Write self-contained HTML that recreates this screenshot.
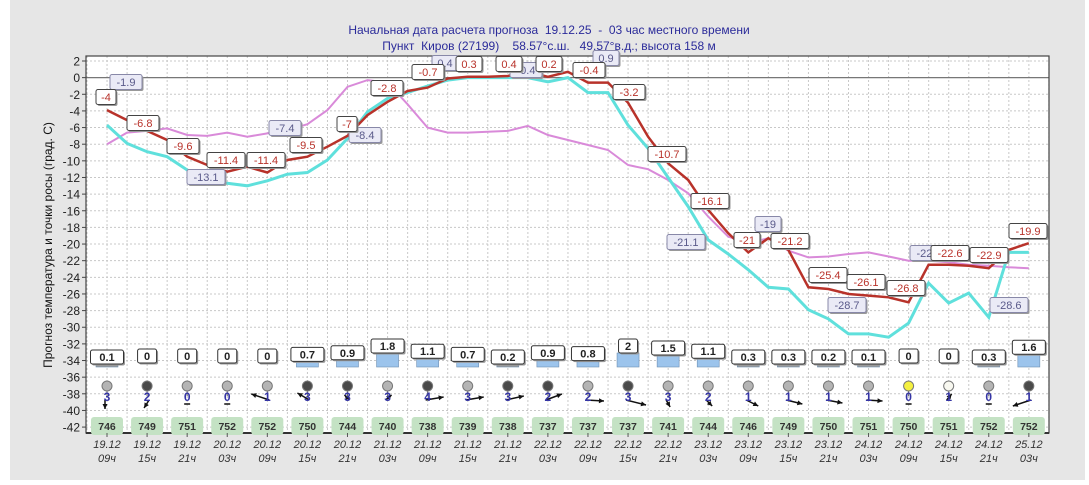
<!DOCTYPE html>
<html><head><meta charset="utf-8">
<style>
html,body{margin:0;padding:0;background:#fff;}
body{width:1089px;height:480px;overflow:hidden;font-family:"Liberation Sans",sans-serif;}
text{white-space:pre;}
</style></head>
<body>
<svg id="s" width="1089" height="480" xmlns="http://www.w3.org/2000/svg" font-family="Liberation Sans, sans-serif">
<rect x="0" y="0" width="1089" height="480" fill="#fff"/>
<rect x="10" y="0" width="1075" height="480" fill="#e6e6e6"/>
<rect x="86" y="56" width="963" height="377" fill="#fff"/>
<text x="549" y="34" text-anchor="middle" font-size="12" fill="#2b2b9a" xml:space="preserve">Начальная дата расчета прогноза  19.12.25  -  03 час местного времени</text>
<text x="549" y="50" text-anchor="middle" font-size="12" fill="#2b2b9a" xml:space="preserve">Пункт  Киров (27199)    58.57°с.ш.   49.57°в.д.; высота 158 м</text>
<text transform="translate(52,245) rotate(-90)" text-anchor="middle" font-size="12" fill="#111">Прогноз температура и точки росы (град. С)</text>
<g id="g"></g>
</svg>
<script>
const NS="http://www.w3.org/2000/svg",g=document.getElementById('g');
function el(t,a,txt){const e=document.createElementNS(NS,t);for(const k in a)e.setAttribute(k,a[k]);if(txt!==undefined)e.textContent=txt;g.appendChild(e);return e;}
const Y=v=>61+(2-v)*8.32, X=i=>107+i*20.04;
for(let v=2;v>=-42;v-=2){const y=Y(v);
 if(v!==0)el('line',{x1:86,x2:1049,y1:y,y2:y,stroke:'#c8c8c8','stroke-dasharray':'2,2','stroke-width':1});
 el('line',{x1:82,x2:86,y1:y,y2:y,stroke:'#444'});
 el('text',{x:80,y:y+4.5,'text-anchor':'end','font-size':12,fill:'#222'},String(v));}
for(let x=107-20;x<1049;x+=20.04){if(x>86)el('line',{x1:x,x2:x,y1:56,y2:433,stroke:'#c8c8c8','stroke-dasharray':'2,2'});}
el('line',{x1:86,x2:1049,y1:Y(0),y2:Y(0),stroke:'#777','stroke-width':1.2});
el('rect',{x:86,y:56,width:963,height:377,fill:'none',stroke:'#444','stroke-width':1.2});
el('line',{x1:86,x2:1049,y1:433,y2:433,stroke:'#333','stroke-width':2});
const red=[-3.9,-5.1,-6.4,-7.5,-9.5,-10.5,-11.3,-10.7,-11.4,-9.9,-9.5,-8.3,-7,-4.5,-2.9,-1.6,-1.2,-0.1,0.1,0.1,0.2,0.7,0.1,0.7,-0.6,-0.6,-3,-7.1,-10.3,-12.3,-15.9,-18.7,-21,-19.3,-20.7,-25.2,-25.4,-26,-26.2,-26.4,-27,-22.5,-22.5,-22.6,-22.9,-20.7,-19.9];
const cy=[-5.7,-7.9,-8.9,-9.5,-11.1,-12.3,-12.7,-13,-12.4,-11.6,-11.4,-9.9,-7.3,-4.1,-2.5,-1.8,-1,-0.3,0,0,0,0,-0.5,0,-1.8,-1.8,-5.7,-8.5,-12,-15.5,-19.5,-21.2,-23.1,-25.2,-25.4,-27.9,-29,-30.8,-30.8,-31.2,-29.5,-24.7,-27.1,-25.9,-28.8,-21,-21];
const mg=[-8,-6.6,-6.4,-6.1,-6.9,-7,-6.6,-7.1,-6.7,-6.3,-5.6,-3.9,-1.1,-0.3,-0.6,-3.2,-6,-6.6,-6.6,-6.5,-6.4,-5.8,-6.9,-7.5,-8.1,-8.7,-10.5,-11,-12.3,-13.9,-16.7,-19.1,-19.9,-19.3,-20.8,-21.6,-21.5,-21.2,-21,-21.5,-22,-22,-22.2,-22.5,-22.6,-22.8,-22.9];
const pl=a=>a.map((v,i)=>X(i).toFixed(1)+','+Y(v).toFixed(1)).join(' ');
el('polyline',{points:pl(mg),fill:'none',stroke:'#d98ad9','stroke-width':2});
el('polyline',{points:pl(cy),fill:'none',stroke:'#5fe0dc','stroke-width':3});
el('polyline',{points:pl(red),fill:'none',stroke:'#b8322a','stroke-width':2.5});
function lab(cx,cyy,t,col,bg,bd){const w=t.length*6+8;
 el('rect',{x:cx-w/2+1.5,y:cyy-7.5+1.5,width:w,height:15,fill:'#999',rx:2});
 el('rect',{x:cx-w/2,y:cyy-7.5,width:w,height:15,fill:bg,stroke:bd,rx:2});
 el('text',{x:cx,y:cyy+4,'text-anchor':'middle','font-size':11,fill:col},t);}
const rl=[[106,97,'-4'],[143,123,'-6.8'],[183,146,'-9.6'],[226,160,'-11.4'],[266,160,'-11.4'],[306,145,'-9.5'],[347,124,'-7'],[387,88,'-2.8'],[428,72,'-0.7'],[469,64,'0.3'],[509,64,'0.4'],[549,64,'0.2'],[589,70,'-0.4'],[629,92,'-3.2'],[667,154,'-10.7'],[710,201,'-16.1'],[747,240,'-21'],[790,241,'-21.2'],[828,275,'-25.4'],[866,282,'-26.1'],[906,288,'-26.8'],[950,253,'-22.6'],[989,255,'-22.9'],[1028,231,'-19.9']];
const bl=[[126,82,'-1.9'],[206,177,'-13.1'],[285,128,'-7.4'],[365,135,'-8.4'],[445,63,'0.4'],[526,70,'-0.4'],[606,58,'0.9'],[686,242,'-21.1'],[768,224,'-19'],[847,305,'-28.7'],[929,253,'-22.5'],[1009,305,'-28.6']];
bl.forEach(a=>lab(a[0],a[1],a[2],'#5a5a8a','#eaeaf6','#8888a8'));
rl.forEach(a=>lab(a[0],a[1],a[2],'#b8322a','#fff','#444'));
const pr=[0.1,0,0,0,0,0.7,0.9,1.8,1.1,0.7,0.2,0.9,0.8,2,1.5,1.1,0.3,0.3,0.2,0.1,0,0,0.3,1.6];
const cl=['l','d','l','l','l','d','d','l','d','l','d','d','l','d','l','l','l','l','l','l','y','w','l','d'];
const ws=[3,2,0,0,1,3,3,3,4,3,3,2,2,3,3,2,1,1,1,1,0,1,0,1];
const wv=[[0,9],[-5,8],null,null,[-18,-6],[-12,-7],[-5,-5],[6,-5],[18,-3],[18,-3],[18,-4],[16,-6],[18,1],[20,5],[4,7],[6,6],[12,6],[16,4],[16,3],[16,1],null,[5,-6],null,[-18,6]];
const ps=[746,749,751,752,752,750,744,740,738,739,738,737,737,737,741,744,746,749,750,751,750,751,752,752];
const ccol={l:'#b4b4b4',d:'#4a4a4a',y:'#f4f040',w:'#f8f8f0'};
for(let c=0;c<24;c++){const x=X(2*c),v=pr[c];
 let h=v>0?Math.max(3,Math.min(14,v*8)):0;const bb=367;
 if(h>0)el('rect',{x:x-11,y:bb-h,width:22,height:h,fill:v>=0.4?'#9cc4ec':'#999',stroke:'#6d8fb3','stroke-width':0.6});
 const t=String(v),w=t.length*7+12,top=(h>0?bb-h:363)-14;
 el('rect',{x:x-w/2+1.5,y:top+1.5,width:w,height:14,fill:'#999',rx:2});
 el('rect',{x:x-w/2,y:top,width:w,height:14,fill:'#fff',stroke:'#333',rx:2});
 el('text',{x:x,y:top+11,'text-anchor':'middle','font-size':11,'font-weight':'bold',fill:'#222'},t);
 el('line',{x1:x,x2:x,y1:388,y2:396,stroke:'#666'});
 el('circle',{cx:x,cy:386,r:5,fill:ccol[cl[c]],stroke:'#777'});
 const a=wv[c];
 if(a){const x0=x+(a[0]<0?2:-2),y0=400;el('line',{x1:x0,y1:y0,x2:x0+a[0],y2:y0+a[1],stroke:'#111','stroke-width':1.5});
  const L=Math.hypot(a[0],a[1]),ux=a[0]/L,uy=a[1]/L,tx=x0+a[0],ty=y0+a[1];
  el('polygon',{points:`${tx},${ty} ${tx-ux*5-uy*2.5},${ty-uy*5+ux*2.5} ${tx-ux*5+uy*2.5},${ty-uy*5-ux*2.5}`,fill:'#111'});}
 else el('line',{x1:x-3,x2:x+3,y1:404,y2:404,stroke:'#111','stroke-width':1.5});
 el('text',{x:x,y:401,'text-anchor':'middle','font-size':12,'font-weight':'bold',fill:'#3535a5'},String(ws[c]));
 el('rect',{x:x-16,y:417,width:32,height:18,rx:3,fill:'#c4e2c4'});
 el('text',{x:x,y:430,'text-anchor':'middle','font-size':10.5,'font-weight':'bold',fill:'#333'},String(ps[c]));
}
const dates=['19.12','19.12','19.12','20.12','20.12','20.12','20.12','21.12','21.12','21.12','21.12','22.12','22.12','22.12','22.12','23.12','23.12','23.12','23.12','24.12','24.12','24.12','24.12','25.12'];
const hrs=['09ч','15ч','21ч','03ч'];
for(let c=0;c<24;c++){const x=X(2*c);
 el('line',{x1:x,x2:x,y1:433,y2:437,stroke:'#555'});
 el('text',{x:x,y:448,'text-anchor':'middle','font-size':11,'font-style':'italic',fill:'#333'},dates[c]);
 el('text',{x:x,y:462,'text-anchor':'middle','font-size':11,'font-style':'italic',fill:'#333'},hrs[c%4]);}
</script>
</body></html>
